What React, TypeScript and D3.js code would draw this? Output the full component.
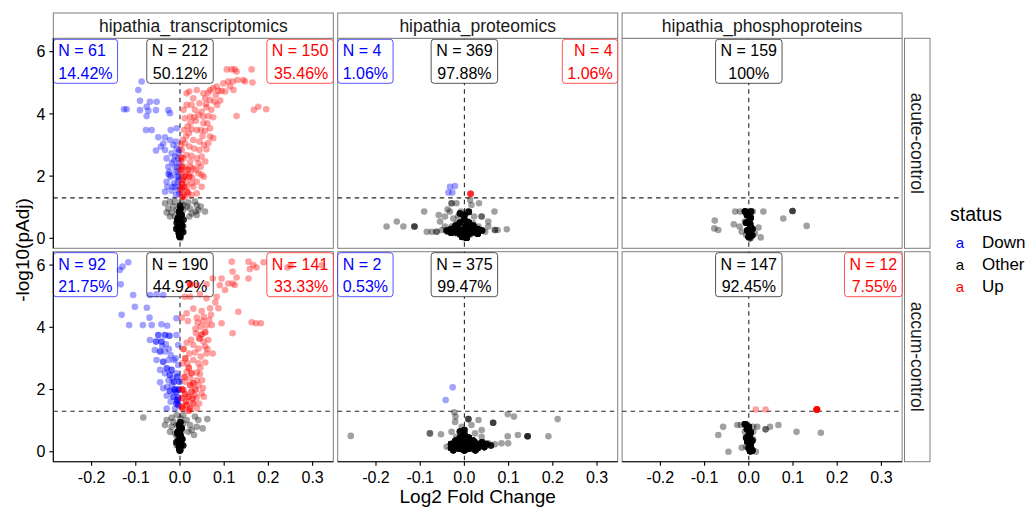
import React from "react";
import * as d3 from "d3";

// [log2FC, -log10(pAdj), n]  (n = number of genes sharing that spot, default 1)
type Pt = number[];

const omics = ["hipathia_transcriptomics", "hipathia_proteomics", "hipathia_phosphoproteins"];
const contrasts = ["acute-control", "accum-control"];
const statusLevels = ["Down", "Other", "Up"];

const xTicks = [-0.2, -0.1, 0, 0.1, 0.2, 0.3];
const xTickLabels = ["-0.2", "-0.1", "0.0", "0.1", "0.2", "0.3"];
const yTicks = [0, 2, 4, 6];
const yTickLabels = ["0", "2", "4", "6"];
const fcLine = 0;
const padjLine = 1.301;

// counts per panel, row-major: acute (3 omics) then accum (3 omics)
const downCounts = [61, 4, 0, 92, 2, 0];
const otherCounts = [212, 369, 159, 190, 375, 147];
const upCounts = [150, 4, 0, 141, 0, 12];

// ---------- hipathia_transcriptomics / acute-control ----------
const transAcuteDown: Pt[] = [
  [-0.0867, 5.04], [-0.0943, 4.77], [-0.1207, 4.15], [-0.1267, 4.15], [-0.0905, 4.42], [-0.0679, 4.39],
  [-0.0528, 4.39], [-0.0754, 4.23], [-0.0716, 4.1], [-0.0543, 4.12], [-0.0905, 4.12], [-0.0754, 3.93],
  [-0.0264, 4.12], [-0.0226, 4.02], [-0.0769, 3.48], [-0.0641, 3.48], [-0.0075, 3.54], [-0.049, 3.25],
  [-0.0339, 3.25], [-0.0226, 3.16], [-0.009, 3.11], [-0.0543, 2.82], [-0.0339, 2.84], [-0.0189, 2.73],
  [-0.0075, 2.89], [-0.0038, 2.75], [-0.0302, 2.57], [-0.0136, 2.5], [-0.0264, 2.3], [-0.0113, 2.3],
  [-0.0264, 2.07], [-0.0211, 1.98], [-0.0038, 2.14], [-0.0075, 1.98], [-0.0302, 1.82], [-0.0136, 1.77],
  [-0.0339, 1.5], [-0.0166, 1.66], [-0.0038, 1.55], [-0.009, 1.39], [-0.0015, 1.88], [-0.0015, 2.41],
  [-0.003, 1.98], [-0.005, 1.82], [-0.0008, 1.66], [-0.0226, 2.03], [-0.024, 2.14], [-0.018, 2.43],
  [-0.0106, 2.63], [-0.015, 3.0], [-0.0377, 3.05], [-0.043, 2.95], [-0.021, 3.48], [-0.0113, 1.66],
  [-0.006, 2.3], [-0.0015, 2.84], [-0.0189, 1.53], [-0.0015, 1.43], [-0.0287, 1.66], [-0.009, 2.14],
  [-0.0045, 2.57],
];
const transAcuteOther: Pt[] = [
  [-0.0339, 1.13], [-0.0226, 1.18], [-0.0113, 1.18], [0.0038, 1.18], [0.0189, 1.15], [0.0339, 1.18],
  [0.0377, 1.07], [0.0467, 1.02], [0.0566, 0.86], [-0.0302, 0.83], [-0.0189, 0.83], [-0.0075, 0.91],
  [0.0075, 0.91], [0.0226, 0.96], [0.0354, 0.86], [-0.0226, 0.7], [-0.0113, 0.7], [0.0038, 0.7],
  [0.0211, 0.7], [0.0377, 0.75], [-0.0038, 0.54], [0.0038, 0.54], [-0.0075, 0.38], [0.0075, 0.38],
  [-0.0038, 0.21], [0.0038, 0.16], [-0.0015, 0.05], [0.0015, 0.0], [-0.0151, 1.02], [0.0151, 1.02],
  [0.0264, 0.8], [0.0415, 0.91], [-0.0264, 0.96], [0.0, 1.02], [0.0075, 1.07], [0.0015, 0.8],
  [-0.0015, 0.64], [0.0015, 0.43], [-0.0015, 0.29], [0.0038, 0.29], [0.0, 0.14],
  [0.0, 0.05, 12], [-0.002, 0.15, 12], [0.002, 0.25, 12], [-0.003, 0.35, 12], [0.002, 0.45, 12],
  [0.0, 0.55, 12], [-0.004, 0.65, 10], [0.003, 0.75, 10], [-0.002, 0.85, 8], [0.001, 0.95, 6],
  [-0.001, 0.1, 10], [0.001, 0.3, 10], [0.0, 0.5, 10], [-0.006, 0.6, 6], [0.005, 0.4, 6],
  [-0.008, 0.3, 5], [0.007, 0.2, 5], [-0.007, 0.5, 5], [0.008, 0.6, 4], [0.0, 1.05, 4],
];
const transAcuteUp: Pt[] = [
  [0.106, 5.43], [0.117, 5.43], [0.124, 5.43], [0.162, 5.43], [0.128, 5.36], [0.109, 5.04], [0.119, 5.04],
  [0.13, 5.09], [0.147, 5.04], [0.164, 5.01], [0.098, 4.98], [0.083, 4.88], [0.075, 4.82], [0.068, 4.77],
  [0.064, 4.68], [0.087, 4.74], [0.094, 4.74], [0.102, 4.72], [0.081, 4.61], [0.053, 4.66], [0.038, 4.77],
  [0.015, 4.66], [0.021, 4.72], [0.057, 4.5], [0.068, 4.45], [0.03, 4.5], [0.044, 4.34], [0.059, 4.32],
  [0.078, 4.4], [0.091, 4.43], [0.049, 4.07], [0.06, 4.21], [0.071, 4.13], [0.008, 4.13], [0.015, 4.29],
  [0.026, 4.29], [0.034, 4.13], [0.042, 3.97], [0.053, 3.91], [0.064, 3.93], [0.075, 3.89], [0.084, 4.29],
  [0.128, 3.93], [0.167, 4.13], [0.177, 4.23], [0.195, 4.15], [0.011, 3.86], [0.023, 3.91], [0.036, 3.78],
  [0.053, 3.7], [0.062, 3.7], [0.068, 3.54], [0.038, 3.48], [0.026, 3.51], [0.017, 3.59], [0.057, 3.46],
  [0.068, 3.27], [0.075, 3.22], [0.03, 3.16], [0.044, 3.11], [0.054, 3.0], [0.011, 3.06], [0.021, 2.95],
  [0.032, 2.89], [0.044, 2.84], [0.06, 2.86], [0.015, 2.68], [0.026, 2.65], [0.008, 2.57], [0.038, 2.57],
  [0.049, 2.63], [0.023, 2.47], [0.042, 2.41], [0.057, 2.47], [0.011, 2.3], [0.03, 2.25], [0.049, 2.04],
  [0.023, 2.09], [0.042, 2.09], [0.008, 1.98], [0.014, 1.82], [0.026, 1.77], [0.015, 1.66], [0.004, 1.61],
  [0.019, 1.45], [0.008, 1.39], [0.026, 1.39], [0.011, 1.33], [0.004, 2.09], [0.004, 2.84], [0.002, 3.0],
  [0.143, 5.09], [0.113, 4.88], [0.121, 4.77],
  [0.002, 2.2, 2], [0.006, 1.88, 2], [0.002, 1.55, 2], [0.005, 1.34, 2], [0.002, 2.47], [0.006, 3.16],
  [0.009, 3.48], [0.014, 3.27], [0.02, 3.38], [0.024, 3.72], [0.032, 3.89], [0.047, 3.48], [0.051, 3.29],
  [0.064, 3.06], [0.036, 2.2], [0.047, 2.3], [0.054, 1.98], [0.038, 1.82], [0.03, 1.66], [0.021, 1.98, 2],
  [0.009, 1.66, 2], [0.038, 1.45], [0.049, 1.66], [0.017, 2.2, 2], [0.024, 2.3], [0.004, 2.3, 2],
  [0.004, 1.75, 2], [0.003, 2.6, 2], [0.012, 2.0, 2], [0.016, 1.5, 2], [0.028, 1.95],
];

// ---------- hipathia_transcriptomics / accum-control ----------
const transAccumDown: Pt[] = [
  [-0.117, 6.09], [-0.13, 5.95], [-0.136, 5.84], [-0.134, 5.38], [-0.106, 5.04], [-0.102, 4.66],
  [-0.132, 4.4], [-0.115, 4.07], [-0.075, 4.63], [-0.068, 5.04], [-0.053, 5.06], [-0.038, 5.04],
  [-0.069, 4.31], [-0.084, 4.07], [-0.064, 4.07], [-0.042, 4.1], [-0.029, 4.05], [-0.008, 4.29],
  [-0.049, 3.75, 2], [-0.034, 3.75, 2], [-0.024, 3.73, 2], [-0.008, 3.75], [-0.068, 3.59], [-0.054, 3.54, 2],
  [-0.042, 3.54, 2], [-0.032, 3.45], [-0.057, 3.27], [-0.045, 3.22, 2], [-0.034, 3.22], [-0.021, 3.11],
  [-0.004, 3.43], [-0.053, 2.95], [-0.038, 2.89, 2], [-0.026, 2.95], [-0.014, 2.95], [-0.045, 2.63],
  [-0.03, 2.68, 2], [-0.019, 2.63, 2], [-0.034, 2.52], [-0.023, 2.47, 2], [-0.008, 2.52], [-0.004, 2.79],
  [-0.026, 2.3], [-0.014, 2.25, 2], [-0.045, 2.23], [-0.038, 2.04], [-0.023, 1.95, 2], [-0.009, 1.93, 2],
  [-0.03, 1.8], [-0.015, 1.77, 2], [-0.004, 1.74, 2], [-0.021, 1.61], [-0.008, 1.55, 2], [-0.03, 1.39],
  [-0.011, 1.39], [-0.004, 1.5, 2], [-0.0015, 2.25, 2], [-0.006, 2.41, 2], [-0.018, 2.14], [-0.029, 2.09],
  [-0.012, 2.0, 3], [-0.003, 2.0, 3], [-0.006, 1.65, 3], [-0.017, 2.35], [-0.04, 3.4], [-0.025, 3.3],
  [-0.01, 3.0],
];
const transAccumOther: Pt[] = [
  [-0.083, 1.1], [-0.0302, 1.02], [-0.0189, 1.09], [-0.0075, 1.18], [0.0075, 1.18], [0.0339, 1.13],
  [0.0415, 1.02], [0.0618, 1.05], [0.0513, 0.75], [-0.0339, 0.86], [-0.0189, 0.8], [-0.0075, 0.86],
  [0.0075, 0.91], [0.0226, 0.86], [0.0377, 0.8], [-0.0226, 0.64], [-0.0113, 0.59], [0.0038, 0.64],
  [0.0189, 0.64], [0.0317, 0.54], [-0.0038, 0.43], [0.0038, 0.38], [-0.0075, 0.21], [0.0015, 0.16],
  [-0.0015, 0.02], [0.0015, 1.07], [0.0151, 1.02], [-0.0151, 0.96], [0.0038, 0.77], [-0.0015, 0.32],
  [0.0264, 0.7],
  [0.0, 0.05, 12], [-0.002, 0.15, 12], [0.002, 0.25, 12], [-0.003, 0.35, 12], [0.002, 0.45, 12],
  [0.0, 0.55, 12], [-0.004, 0.65, 10], [0.003, 0.75, 10], [-0.002, 0.85, 8], [0.001, 0.95, 6],
  [-0.001, 0.1, 10], [0.001, 0.3, 10], [0.0, 0.5, 10], [-0.006, 0.6, 6], [0.005, 0.4, 6],
  [-0.008, 0.3, 5], [0.007, 0.2, 5], [-0.007, 0.5, 1],
];
const transAccumUp: Pt[] = [
  [0.117, 6.11], [0.155, 6.11], [0.166, 6.0], [0.173, 5.92], [0.158, 5.87], [0.119, 5.79], [0.128, 5.6],
  [0.155, 5.57], [0.189, 6.09], [0.243, 5.92], [0.25, 5.98], [0.321, 6.0], [0.074, 5.57], [0.094, 5.57],
  [0.109, 5.41], [0.119, 5.41], [0.124, 5.36], [0.023, 5.38, 3], [0.039, 5.36], [0.06, 5.38], [0.011, 4.98],
  [0.023, 4.98], [0.045, 5.06], [0.06, 4.93], [0.083, 4.98], [0.102, 5.2], [0.068, 4.61], [0.087, 4.61],
  [0.049, 4.52], [0.015, 4.45], [0.004, 4.31], [0.038, 4.31], [0.054, 4.34], [0.066, 4.23], [0.072, 4.07],
  [0.06, 4.05], [0.047, 4.02], [0.094, 4.13], [0.132, 4.5], [0.162, 4.16], [0.172, 4.13], [0.183, 4.13],
  [0.119, 3.81], [0.036, 3.81], [0.049, 3.77, 2], [0.057, 3.84, 2], [0.044, 3.64, 2], [0.053, 3.54],
  [0.064, 3.59], [0.03, 3.43], [0.042, 3.32], [0.057, 3.38], [0.074, 3.16], [0.06, 3.16], [0.021, 3.16],
  [0.034, 3.19], [0.047, 3.06], [0.006, 2.84], [0.017, 2.84], [0.03, 2.95], [0.042, 2.84], [0.057, 2.87],
  [0.015, 2.57], [0.026, 2.52, 2], [0.038, 2.55], [0.023, 2.36], [0.038, 2.3], [0.011, 2.25], [0.023, 2.14, 2],
  [0.042, 2.14], [0.008, 1.98], [0.026, 1.93, 2], [0.049, 1.88], [0.004, 1.72, 2], [0.019, 1.77, 2],
  [0.038, 1.74], [0.054, 1.77], [0.014, 1.61, 2], [0.03, 1.55, 2], [0.006, 1.39, 2], [0.023, 1.39, 2],
  [0.038, 1.39], [0.015, 1.5, 2],
  [0.008, 3.3, 2], [0.012, 3.0, 2], [0.02, 2.7, 2], [0.03, 2.2, 2], [0.045, 2.5], [0.05, 2.3], [0.035, 2.0, 2],
  [0.01, 2.4, 2], [0.005, 2.0, 3], [0.012, 1.85, 2], [0.028, 1.7, 2], [0.043, 1.55], [0.02, 1.32, 2],
  [0.004, 1.45, 2], [0.015, 3.5], [0.025, 3.6], [0.035, 3.95], [0.04, 4.15], [0.052, 4.2], [0.07, 4.4],
  [0.08, 4.8], [0.09, 5.35], [0.03, 4.6], [0.018, 4.2], [0.062, 3.3], [0.046, 2.7], [0.052, 2.05], [0.033, 1.82],
];

// ---------- hipathia_proteomics ----------
const protAcuteDown: Pt[] = [[-0.0326, 1.66], [-0.0213, 1.68], [-0.0363, 1.47], [-0.0273, 1.47]];
const protAcuteOther: Pt[] = [
  [-0.176, 0.38], [-0.153, 0.54], [-0.138, 0.38], [-0.113, 0.38, 3], [-0.091, 0.86], [-0.085, 0.21],
  [-0.074, 0.21], [-0.063, 0.21, 2], [-0.051, 0.27], [-0.038, 0.21, 2], [-0.055, 0.54], [-0.044, 0.7],
  [-0.033, 0.86], [-0.029, 1.13, 2], [-0.018, 1.13], [-0.008, 0.86], [0.005, 0.86], [0.013, 1.23],
  [0.016, 1.07], [0.033, 1.13], [0.039, 0.7, 2], [0.054, 0.54], [0.068, 0.86], [0.054, 0.38],
  [0.069, 0.27, 2], [0.075, 0.27], [0.096, 0.29], [0.032, 0.38], [0.024, 0.21], [0.013, 0.11], [0.0, 0.0],
  [-0.01, 0.11], [-0.021, 0.16], [-0.029, 0.38], [-0.018, 0.48], [-0.002, 0.48], [0.009, 0.54],
  [0.02, 0.48], [0.039, 0.27], [-0.014, 0.7], [-0.002, 0.7], [-0.025, 0.64], [-0.044, 0.38], [-0.058, 0.75],
  [-0.038, 0.93], [0.022, 0.7], [0.047, 0.21], [0.009, 0.27], [-0.006, 0.27], [0.005, 0.32],
  [-0.03, 0.3, 8], [-0.02, 0.4, 10], [-0.01, 0.5, 12], [0.0, 0.6, 10], [0.01, 0.5, 12], [0.02, 0.4, 10],
  [0.03, 0.3, 8], [-0.02, 0.2, 12], [-0.01, 0.15, 15], [0.0, 0.1, 20], [0.01, 0.15, 15], [0.02, 0.2, 12],
  [0.0, 0.3, 15], [-0.005, 0.05, 20], [0.005, 0.02, 20], [0.0, 0.75, 8], [0.01, 0.85, 6], [-0.01, 0.8, 6],
  [0.03, 0.15, 10], [-0.03, 0.18, 10], [0.04, 0.25, 6], [-0.04, 0.25, 6], [0.005, 0.4, 15], [-0.005, 0.25, 15],
  [0.015, 0.3, 8], [-0.015, 0.35, 8],
];
const protAcuteUp: Pt[] = [[0.014, 1.43, 4]];

const protAccumDown: Pt[] = [[-0.0265, 2.07], [-0.0424, 1.66]];
const protAccumOther: Pt[] = [
  [-0.257, 0.51], [-0.078, 0.59, 2], [-0.053, 0.56], [-0.04, 0.16], [-0.023, 1.27], [-0.02, 1.13],
  [0.009, 1.05, 3], [0.032, 1.02], [0.065, 0.93, 3], [0.098, 1.21], [0.112, 1.13], [0.211, 1.05],
  [0.19, 0.5], [0.143, 0.5, 4], [0.121, 0.54], [0.098, 0.5], [0.084, 0.27], [0.099, 0.27], [0.054, 0.27],
  [0.039, 0.48], [0.024, 0.59], [0.039, 0.7], [0.016, 0.86], [-0.006, 0.8], [-0.021, 0.96], [-0.029, 0.64],
  [-0.018, 0.48], [-0.006, 0.32], [0.005, 0.21], [0.001, 0.05], [0.016, 0.16], [-0.025, 0.21],
  [0.039, 0.24], [0.069, 0.24], [0.024, 0.32],
  [-0.03, 0.25, 10], [-0.02, 0.35, 12], [-0.01, 0.45, 12], [0.0, 0.55, 10], [0.01, 0.45, 12], [0.02, 0.35, 12],
  [0.03, 0.25, 10], [0.04, 0.3, 8], [0.05, 0.25, 6], [-0.02, 0.15, 15], [-0.01, 0.1, 18], [0.0, 0.05, 20],
  [0.01, 0.1, 18], [0.02, 0.15, 15], [0.0, 0.25, 18], [-0.005, 0.35, 15], [0.005, 0.3, 15], [0.0, 0.7, 6],
  [-0.01, 0.65, 6], [0.03, 0.12, 10], [-0.03, 0.12, 10], [0.045, 0.15, 8], [0.06, 0.2, 5], [0.015, 0.2, 15],
  [-0.015, 0.25, 15], [0.0, 0.15, 20], [0.025, 0.05, 10], [-0.025, 0.05, 8],
];
const protAccumUp: Pt[] = [];

// ---------- hipathia_phosphoproteins ----------
const phosAcuteDown: Pt[] = [];
const phosAcuteOther: Pt[] = [
  [-0.031, 0.86], [-0.02, 0.86], [-0.009, 0.86, 3], [0.009, 0.86], [0.033, 0.86], [0.099, 0.88, 3],
  [0.078, 0.64], [0.131, 0.4], [-0.077, 0.57], [-0.078, 0.32], [-0.069, 0.27], [-0.034, 0.45],
  [-0.021, 0.38], [-0.009, 0.54], [0.004, 0.45, 3], [0.004, 0.7], [0.004, 0.21], [-0.006, 0.11],
  [0.003, 0.0, 3], [0.014, 0.16], [0.027, 0.03], [0.022, 0.35], [-0.016, 0.21],
  [0.0, 0.05, 14], [0.003, 0.15, 14], [-0.003, 0.25, 12], [0.004, 0.35, 12], [0.002, 0.45, 10],
  [0.0, 0.55, 10], [0.004, 0.65, 10], [-0.004, 0.75, 10], [-0.008, 0.86, 8], [0.005, 0.86, 6],
  [-0.006, 0.5, 8], [0.008, 0.3, 8], [0.008, 0.1, 6],
];
const phosAcuteUp: Pt[] = [];

const phosAccumDown: Pt[] = [];
const phosAccumOther: Pt[] = [
  [-0.058, 0.8], [-0.069, 0.54], [-0.046, 0.0], [-0.026, 0.86], [-0.018, 0.86], [-0.009, 0.88, 3],
  [0.01, 0.8], [0.019, 0.8], [0.048, 0.8], [0.067, 0.86], [0.038, 0.72, 2], [0.108, 0.64], [0.163, 0.61],
  [-0.009, 0.64], [0.004, 0.59, 2], [0.01, 0.64], [-0.003, 0.41], [0.01, 0.4], [-0.016, 0.13],
  [-0.006, 0.16], [0.007, 0.02, 3], [0.016, 0.0], [0.001, 0.21],
  [0.003, 0.02, 14], [0.0, 0.12, 12], [0.004, 0.22, 12], [-0.003, 0.32, 10], [0.003, 0.42, 10],
  [0.0, 0.52, 10], [0.004, 0.62, 10], [-0.004, 0.72, 8], [-0.008, 0.88, 8], [0.0, 0.8, 8],
  [0.008, 0.05, 8], [-0.006, 0.45, 6], [0.008, 0.35, 6],
];
const phosAccumUp: Pt[] = [[0.016, 1.36], [0.038, 1.36], [0.154, 1.36, 10]];

// panel data, row-major (contrast × omic), each as [Down, Other, Up]
const panelData: Pt[][][] = [
  [transAcuteDown, transAcuteOther, transAcuteUp],
  [protAcuteDown, protAcuteOther, protAcuteUp],
  [phosAcuteDown, phosAcuteOther, phosAcuteUp],
  [transAccumDown, transAccumOther, transAccumUp],
  [protAccumDown, protAccumOther, protAccumUp],
  [phosAccumDown, phosAccumOther, phosAccumUp],
];

const statusColor: Record<string, string> = { Down: "#0000FF", Other: "#000000", Up: "#FF0000" };
const FONT = "'Liberation Sans', Arial, Helvetica, sans-serif";

// layout
const PW = 280;
const PH = 210;
const panelLeft = [53.3, 337.7, 622.1];
const rowTop = [38.3, 251.7];
const stripTop = 13;

const x = d3.scaleLinear().domain([-0.2866, 0.3468]).range([0, PW]);
const y = d3.scaleLinear().domain([-0.32, 6.43]).range([PH, 0]);

let measureCtx: CanvasRenderingContext2D | null = null;
function textWidth(s: string, size: number): number {
  if (!measureCtx) measureCtx = document.createElement("canvas").getContext("2d");
  if (!measureCtx) return s.length * size * 0.55;
  measureCtx.font = `${size}px ${FONT}`;
  return measureCtx.measureText(s).width;
}

function pctLabel(n: number, total: number): string {
  return `${+((100 * n) / total).toFixed(2)}%`;
}

function CountLabel({ n, total, status }: { n: number; total: number; status: string }) {
  const size = 16;
  const pad = 5;
  const l1 = `N = ${n}`;
  const l2 = pctLabel(n, total);
  const w = Math.max(textWidth(l1, size), textWidth(l2, size)) + pad * 2;
  const h = 44;
  let bx: number;
  let tx: number;
  let anchor: "start" | "middle" | "end";
  if (status === "Down") {
    bx = 0;
    tx = pad;
    anchor = "start";
  } else if (status === "Up") {
    bx = PW - w;
    tx = PW - pad;
    anchor = "end";
  } else {
    bx = x(fcLine) - w / 2;
    tx = x(fcLine);
    anchor = "middle";
  }
  const c = statusColor[status];
  return (
    <g>
      <rect x={bx} y={1} width={w} height={h} rx={3} ry={3} fill="#fff" stroke={c} strokeOpacity={0.75} strokeWidth={0.9} />
      <text x={tx} y={18} textAnchor={anchor} fill={c} fontSize={size}>{l1}</text>
      <text x={tx} y={40.5} textAnchor={anchor} fill={c} fontSize={size}>{l2}</text>
    </g>
  );
}

function Panel({ idx }: { idx: number }) {
  const col = idx % 3;
  const row = Math.floor(idx / 3);
  const counts = [downCounts[idx], otherCounts[idx], upCounts[idx]];
  const total = d3.sum(counts);
  const groups = panelData[idx];
  return (
    <g transform={`translate(${panelLeft[col]},${rowTop[row]})`}>
      <rect x={0} y={0} width={PW} height={PH} fill="#fff" stroke="#7f7f7f" strokeWidth={1} />
      <line x1={0} x2={PW} y1={y(padjLine)} y2={y(padjLine)} stroke="#000" strokeWidth={1.1} strokeDasharray="4.5,4" strokeOpacity={0.85} />
      <line x1={x(fcLine)} x2={x(fcLine)} y1={0} y2={PH} stroke="#000" strokeWidth={1.1} strokeDasharray="4.5,4" strokeOpacity={0.85} />
      {statusLevels.map((s, k) =>
        counts[k] > 0 ? <CountLabel key={s} n={counts[k]} total={total} status={s} /> : null
      )}
      {statusLevels.map((s, k) => (
        <g key={s} fill={statusColor[s]} fillOpacity={0.37}>
          {groups[k].flatMap((p, i) =>
            d3.range(p[2] ?? 1).map((j) => <circle key={`${i}-${j}`} cx={x(p[0])} cy={y(p[1])} r={3.3} />)
          )}
        </g>
      ))}
    </g>
  );
}

export default function App() {
  const bottom = rowTop[1] + PH;
  return (
    <svg
      width={1029}
      height={510}
      style={{ position: "absolute", left: 0, top: 0, display: "block", background: "#fff" }}
      fontFamily={FONT}
    >
      {d3.range(6).map((i) => <Panel key={i} idx={i} />)}

      {/* column strips */}
      {omics.map((o, c) => (
        <g key={o}>
          <rect x={panelLeft[c]} y={stripTop} width={PW} height={rowTop[0] - stripTop} fill="#fff" stroke="#7f7f7f" strokeWidth={1} />
          <text x={panelLeft[c] + PW / 2} y={(stripTop + rowTop[0]) / 2} dy="0.35em" textAnchor="middle" fontSize={17.5} fill="#1a1a1a">{o}</text>
        </g>
      ))}

      {/* row strips */}
      {contrasts.map((ct, r) => (
        <g key={ct}>
          <rect x={904.5} y={rowTop[r]} width={25.5} height={PH} fill="#fff" stroke="#7f7f7f" strokeWidth={1} />
          <text
            transform={`translate(${917.2},${rowTop[r] + PH / 2}) rotate(90)`}
            dy="0.35em"
            textAnchor="middle"
            fontSize={17.5}
            fill="#1a1a1a"
          >
            {ct}
          </text>
        </g>
      ))}

      {/* y axis (left column) */}
      {rowTop.map((t, r) => (
        <g key={r} transform={`translate(${panelLeft[0]},${t})`}>
          <line x1={0} x2={0} y1={0} y2={PH} stroke="#000" strokeWidth={1.1} />
          {yTicks.map((v, k) => (
            <g key={v} transform={`translate(0,${y(v)})`}>
              <line x1={-4} x2={0} stroke="#000" strokeWidth={1.1} />
              <text x={-8} dy="0.35em" textAnchor="end" fontSize={16} fill="#000">{yTickLabels[k]}</text>
            </g>
          ))}
        </g>
      ))}

      {/* x axis (bottom row) */}
      {panelLeft.map((l, c) => (
        <g key={c} transform={`translate(${l},${bottom})`}>
          <line x1={0} x2={PW} y1={0} y2={0} stroke="#000" strokeWidth={1.1} />
          {xTicks.map((v, k) => (
            <g key={v} transform={`translate(${x(v)},0)`}>
              <line y1={0} y2={4} stroke="#000" strokeWidth={1.1} />
              <text y={21} textAnchor="middle" fontSize={16} fill="#000">{xTickLabels[k]}</text>
            </g>
          ))}
        </g>
      ))}

      {/* axis titles */}
      <text x={(panelLeft[0] + panelLeft[2] + PW) / 2} y={503} textAnchor="middle" fontSize={19} fill="#000">
        Log2 Fold Change
      </text>
      <text transform={`translate(22,${(rowTop[0] + bottom) / 2}) rotate(-90)`} dy="0.35em" textAnchor="middle" fontSize={19} fill="#000">
        -log10(pAdj)
      </text>

      {/* legend */}
      <text x={950} y={221} fontSize={19.5} fill="#000">status</text>
      {statusLevels.map((s, k) => (
        <g key={s} transform={`translate(0,${248 + k * 22})`}>
          <text x={960} textAnchor="middle" fontSize={15} fill={statusColor[s]}>a</text>
          <text x={982} fontSize={17} fill="#000">{s}</text>
        </g>
      ))}
    </svg>
  );
}
